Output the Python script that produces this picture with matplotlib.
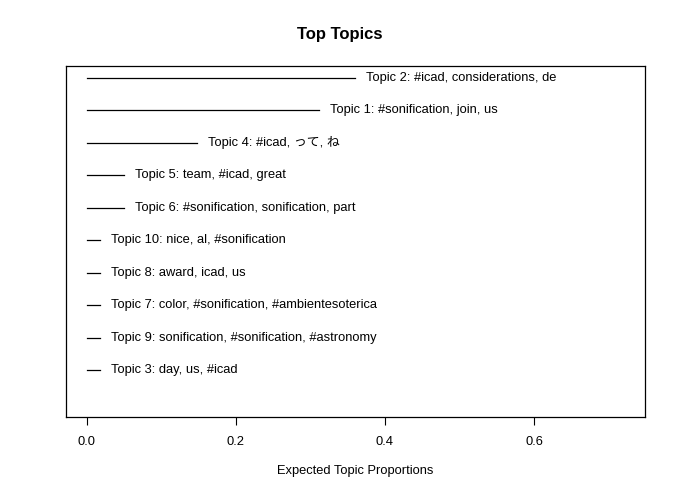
import matplotlib
matplotlib.use("Agg")
import matplotlib.pyplot as plt

plt.rcParams['font.family'] = ['Liberation Sans', 'Noto Sans CJK JP', 'DejaVu Sans']

labels = ["Topic 3: day, us, #icad",
          "Topic 9: sonification, #sonification, #astronomy",
          "Topic 7: color, #sonification, #ambientesoterica",
          "Topic 8: award, icad, us",
          "Topic 10: nice, al, #sonification",
          "Topic 6: #sonification, sonification, part",
          "Topic 5: team, #icad, great",
          "Topic 4: #icad, って, ね",
          "Topic 1: #sonification, join, us",
          "Topic 2: #icad, considerations, de"]
values = [0.018, 0.018, 0.018, 0.018, 0.018, 0.050, 0.050, 0.148, 0.312, 0.360]
xticks = [0.0, 0.2, 0.4, 0.6]

fig = plt.figure(figsize=(6.8, 4.98), dpi=100)
ax = fig.add_axes([66/680, 1-417/498, (645-66)/680, (417-66)/498])
for i, (lab, v) in enumerate(zip(labels, values)):
    y = i + 1
    ax.plot([0, v], [y, y], color='black', lw=0.9)
    ax.annotate(lab, (v, y), xytext=(8, 0), textcoords='offset points',
                va='center', ha='left', fontsize=9.3)
ax.set_xlim(-0.028, 0.749)
ax.set_ylim(1 - 47/32.4, 10 + 12/32.4)
ax.set_yticks([])
ax.set_xticks(xticks)
ax.set_xticklabels([f"{t:.1f}" for t in xticks], fontsize=9.3)
ax.tick_params(axis='x', length=6, pad=8)
for s in ax.spines.values():
    s.set_linewidth(0.9)
ax.set_xlabel("Expected Topic Proportions", fontsize=9.3, labelpad=12)
fig.suptitle("Top Topics", fontsize=12, fontweight='bold', y=1-34/498, va='center')
fig.savefig("out.png", dpi=100)
